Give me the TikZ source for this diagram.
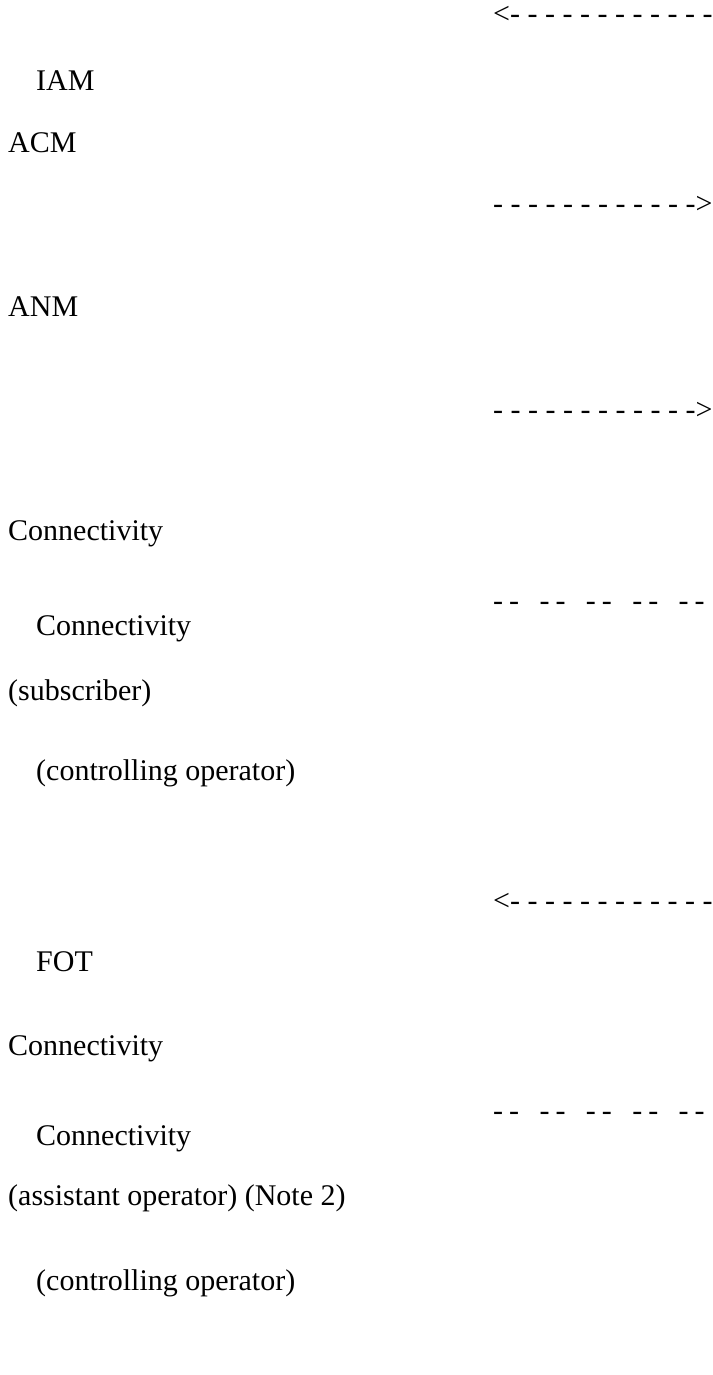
\documentclass[tikz,border=0pt]{standalone}
\usepackage{fontspec}
\setmainfont{Liberation Serif}
\usepackage{tikz}

\begin{document}
\begin{tikzpicture}[
  x=1pt,y=-1pt,
  lbl/.style={anchor=base west,inner sep=0pt,font=\fontsize{30}{36}\selectfont},
  flow/.style={lbl}
]
\useasboundingbox (0,0) rectangle (712,1375);

\node[flow] (bwdA) at (493,24) {<- - - - - - - - - - - -};
\node[lbl] (iam) at (36,91) {IAM};
\node[lbl] (acm) at (8,153) {ACM};
\node[flow] (fwdA) at (493,214) {- - - - - - - - - - - ->};
\node[lbl] (anm) at (8,316) {ANM};
\node[flow] (fwdB) at (493,419) {- - - - - - - - - - - ->};

\node[lbl] (conSub) at (8,540) {Connectivity};
\node[flow] (linkA) at (493,610)
  {-\hspace{.2em}-\hspace{.68em}-\hspace{.2em}-\hspace{.68em}-\hspace{.2em}-\hspace{.68em}-\hspace{.2em}-\hspace{.68em}-\hspace{.2em}-};
\node[lbl] (conCtlA) at (36,635) {Connectivity};
\node[lbl] (sub) at (8,700) {(subscriber)};
\node[lbl] (ctlA) at (36,780) {(controlling operator)};

\node[flow] (bwdB) at (493,910) {<- - - - - - - - - - - -};
\node[lbl] (fot) at (36,971) {FOT};
\node[lbl] (conAst) at (8,1055) {Connectivity};
\node[flow] (linkB) at (493,1120)
  {-\hspace{.2em}-\hspace{.68em}-\hspace{.2em}-\hspace{.68em}-\hspace{.2em}-\hspace{.68em}-\hspace{.2em}-\hspace{.68em}-\hspace{.2em}-};
\node[lbl] (conCtlB) at (36,1145) {Connectivity};
\node[lbl] (ast) at (8,1205) {(assistant operator) (Note 2)};
\node[lbl] (ctlB) at (36,1290) {(controlling operator)};
\end{tikzpicture}
\end{document}
